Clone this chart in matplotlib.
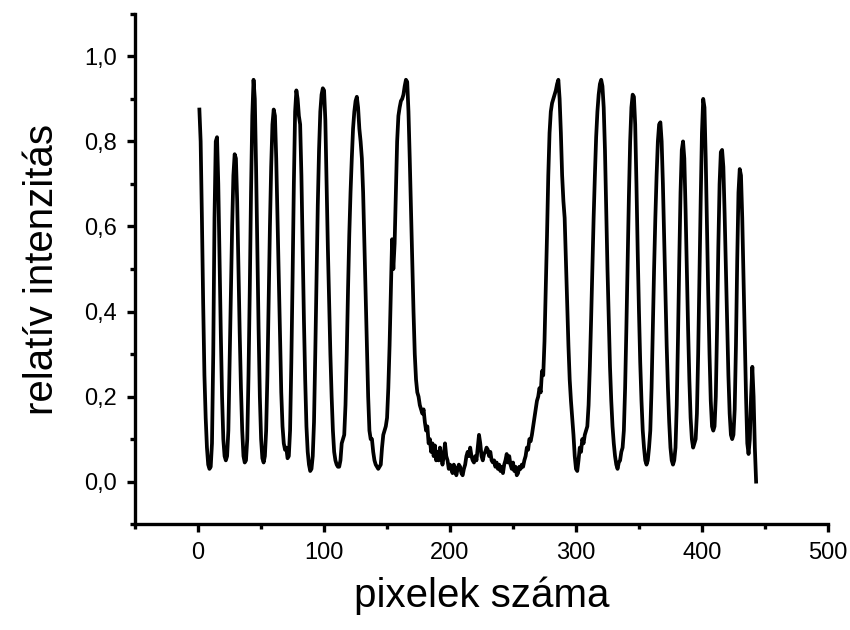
import matplotlib
matplotlib.use("Agg")
import matplotlib.pyplot as plt
import numpy as np
from matplotlib.ticker import MultipleLocator, FuncFormatter

# intensity profile, one value per pixel (1..443)
intenzitas = [
    0.875, 0.80, 0.62, 0.42, 0.25, 0.15, 0.08, 0.04, 0.03, 0.035,
    0.09, 0.30, 0.62, 0.80, 0.81, 0.70, 0.52, 0.35, 0.20, 0.10,
    0.06, 0.05, 0.06, 0.12, 0.28, 0.45, 0.60, 0.72, 0.77, 0.76,
    0.66, 0.50, 0.35, 0.22, 0.12, 0.06, 0.045, 0.05, 0.10, 0.25,
    0.45, 0.68, 0.86, 0.945, 0.90, 0.74, 0.55, 0.36, 0.20, 0.10,
    0.055, 0.045, 0.06, 0.12, 0.25, 0.42, 0.60, 0.74, 0.84, 0.875,
    0.86, 0.76, 0.62, 0.47, 0.33, 0.21, 0.13, 0.09, 0.075, 0.08,
    0.055, 0.06, 0.12, 0.28, 0.48, 0.70, 0.87, 0.92, 0.90, 0.86,
    0.84, 0.72, 0.55, 0.38, 0.24, 0.13, 0.07, 0.04, 0.025, 0.03,
    0.06, 0.14, 0.30, 0.48, 0.65, 0.78, 0.87, 0.91, 0.925, 0.92,
    0.85, 0.70, 0.55, 0.42, 0.30, 0.20, 0.12, 0.07, 0.05, 0.04,
    0.035, 0.035, 0.05, 0.09, 0.10, 0.11, 0.18, 0.30, 0.45, 0.58,
    0.68, 0.76, 0.83, 0.87, 0.895, 0.905, 0.88, 0.83, 0.80, 0.76,
    0.68, 0.56, 0.43, 0.31, 0.20, 0.12, 0.10, 0.10, 0.07, 0.05,
    0.04, 0.035, 0.03, 0.035, 0.04, 0.08, 0.11, 0.12, 0.13, 0.15,
    0.22, 0.32, 0.45, 0.57, 0.50, 0.56, 0.68, 0.80, 0.86, 0.88,
    0.895, 0.90, 0.91, 0.93, 0.945, 0.94, 0.87, 0.76, 0.64, 0.52,
    0.40, 0.30, 0.24, 0.21, 0.20, 0.18, 0.17, 0.16, 0.17, 0.14,
    0.12, 0.13, 0.09, 0.10, 0.07, 0.09, 0.06, 0.085, 0.05, 0.07,
    0.05, 0.08, 0.06, 0.04, 0.06, 0.09, 0.06, 0.05, 0.03, 0.04,
    0.03, 0.02, 0.04, 0.03, 0.015, 0.03, 0.04, 0.035, 0.02, 0.015,
    0.03, 0.04, 0.06, 0.07, 0.06, 0.08, 0.06, 0.05, 0.045, 0.06,
    0.05, 0.08, 0.11, 0.09, 0.06, 0.05, 0.065, 0.07, 0.08, 0.075,
    0.06, 0.07, 0.05, 0.045, 0.05, 0.035, 0.045, 0.03, 0.04, 0.025,
    0.035, 0.02, 0.04, 0.05, 0.065, 0.045, 0.06, 0.04, 0.03, 0.045,
    0.025, 0.035, 0.015, 0.02, 0.035, 0.03, 0.04, 0.035, 0.05, 0.06,
    0.08, 0.075, 0.10, 0.095, 0.11, 0.13, 0.15, 0.17, 0.19, 0.20,
    0.22, 0.21, 0.26, 0.25, 0.33, 0.45, 0.58, 0.72, 0.82, 0.87,
    0.89, 0.90, 0.91, 0.92, 0.935, 0.945, 0.90, 0.82, 0.72, 0.66,
    0.62, 0.52, 0.42, 0.32, 0.24, 0.19, 0.15, 0.11, 0.06, 0.03,
    0.025, 0.05, 0.08, 0.07, 0.10, 0.09, 0.11, 0.12, 0.13, 0.18,
    0.27, 0.38, 0.50, 0.62, 0.72, 0.81, 0.87, 0.91, 0.935, 0.945,
    0.93, 0.88, 0.78, 0.64, 0.50, 0.38, 0.27, 0.19, 0.13, 0.09,
    0.06, 0.04, 0.03, 0.045, 0.05, 0.07, 0.08, 0.12, 0.22, 0.36,
    0.52, 0.67, 0.80, 0.88, 0.91, 0.905, 0.84, 0.70, 0.54, 0.40,
    0.28, 0.19, 0.12, 0.08, 0.05, 0.04, 0.05, 0.08, 0.12, 0.22,
    0.36, 0.50, 0.62, 0.72, 0.80, 0.84, 0.845, 0.80, 0.70, 0.57,
    0.44, 0.32, 0.22, 0.14, 0.08, 0.05, 0.04, 0.05, 0.08, 0.18,
    0.34, 0.52, 0.68, 0.78, 0.80, 0.76, 0.64, 0.50, 0.36, 0.24,
    0.15, 0.10, 0.08, 0.09, 0.10, 0.16, 0.30, 0.48, 0.66, 0.82,
    0.90, 0.88, 0.76, 0.60, 0.44, 0.30, 0.19, 0.13, 0.12, 0.13,
    0.20, 0.36, 0.55, 0.70, 0.775, 0.78, 0.74, 0.63, 0.50, 0.37,
    0.25, 0.16, 0.11, 0.10, 0.11, 0.17, 0.32, 0.52, 0.68, 0.735,
    0.72, 0.62, 0.48, 0.34, 0.20, 0.09, 0.065, 0.10, 0.20, 0.27,
    0.20, 0.08, 0.0,
]
pixel = np.arange(1, len(intenzitas) + 1)

x_ticks = [0, 100, 200, 300, 400, 500]
y_ticks = [0.0, 0.2, 0.4, 0.6, 0.8, 1.0]

plt.rcParams['font.family'] = ['Liberation Sans', 'DejaVu Sans']

fig = plt.figure(figsize=(8.5, 6.3), dpi=100)
ax = fig.add_axes([0.159, 0.168, 0.815, 0.81])

ax.plot(pixel, intenzitas, color='black', linewidth=2.7)

ax.set_xlim(-50, 500)
ax.set_ylim(-0.1, 1.1)
ax.set_xticks(x_ticks)
ax.set_yticks(y_ticks)
ax.xaxis.set_minor_locator(MultipleLocator(50))
ax.yaxis.set_minor_locator(MultipleLocator(0.1))
ax.yaxis.set_major_formatter(FuncFormatter(lambda v, p: f"{v:.1f}".replace('.', ',')))

for side in ['top', 'right']:
    ax.spines[side].set_visible(False)
for side in ['left', 'bottom']:
    ax.spines[side].set_linewidth(2.4)

ax.tick_params(which='major', direction='out', length=6, width=2.4, labelsize=17, pad=7)
ax.tick_params(which='minor', direction='out', length=3.5, width=2.4)

ax.set_xlabel("pixelek száma", fontsize=29, labelpad=9)
ax.set_ylabel("relatív intenzitás", fontsize=29, labelpad=17)

fig.savefig("out.png", dpi=100)
